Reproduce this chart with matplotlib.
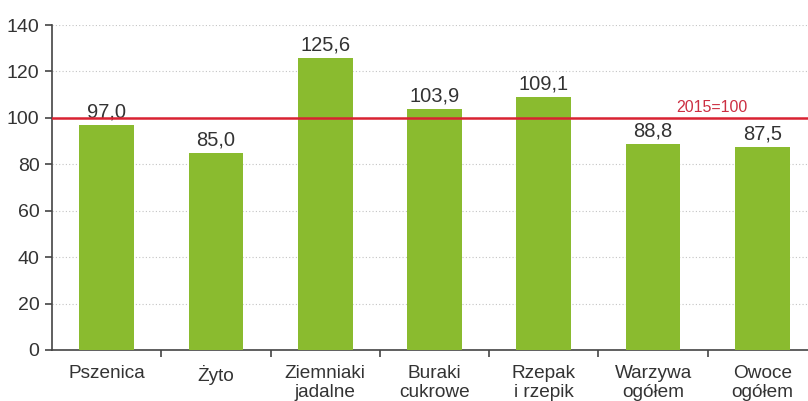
import matplotlib
matplotlib.use("Agg")
import matplotlib.pyplot as plt
import numpy as np

categories = ["Pszenica", "Żyto", "Ziemniaki\njadalne", "Buraki\ncukrowe",
              "Rzepak\ni rzepik", "Warzywa\nogółem", "Owoce\nogółem"]
values = [97.0, 85.0, 125.6, 103.9, 109.1, 88.8, 87.5]
y_ticks = [0, 20, 40, 60, 80, 100, 120, 140]
reference_value = 100
reference_label = "2015=100"

plt.rcParams['font.family'] = ['Liberation Sans', 'DejaVu Sans']

fig = plt.figure(figsize=(8.08, 4.01), dpi=100)
# axes extends slightly beyond right edge (clipped like the reference)
ax = fig.add_axes([52/808, 51/401, (817-52)/808, (350-25)/401])

x = np.arange(len(categories))
ax.bar(x, values, width=0.5, color="#8abb2f", zorder=3)

for xi, v in zip(x, values):
    ax.text(xi, v + 1.5, f"{v:.1f}".replace(".", ","), ha="center", va="bottom",
            fontsize=14.5, color="#333333", zorder=4)

ax.axhline(reference_value, color="#d92232", linewidth=1.8, zorder=5)
ax.text(5.54, reference_value + 1.2, reference_label, ha="center", va="bottom",
        fontsize=11.5, color="#cc2f42", zorder=5)

ax.set_xlim(-0.5, len(categories) - 0.5)
ax.set_ylim(0, 140)
ax.set_yticks(y_ticks)
ax.set_yticklabels([str(t) for t in y_ticks], fontsize=14, color="#333333")
ax.yaxis.grid(True, linestyle=(0, (1, 2)), color="#c4c4c4", linewidth=0.8, zorder=0)

ax.set_xticks(x)
ax.set_xticklabels(categories, fontsize=13.7, color="#333333", linespacing=1.1)
ax.tick_params(axis="x", length=0, pad=11)
ax.set_xticks(np.arange(0.5, len(categories) - 0.5, 1), minor=True)
ax.tick_params(axis="x", which="minor", length=5, width=1.2, color="#444444", direction="out")
ax.tick_params(axis="y", length=5, width=1.2, color="#444444", direction="out", pad=4)

for s in ["top", "right"]:
    ax.spines[s].set_visible(False)
for s in ["left", "bottom"]:
    ax.spines[s].set_color("#444444")
    ax.spines[s].set_linewidth(1.2)

fig.savefig("out.png", dpi=100)
